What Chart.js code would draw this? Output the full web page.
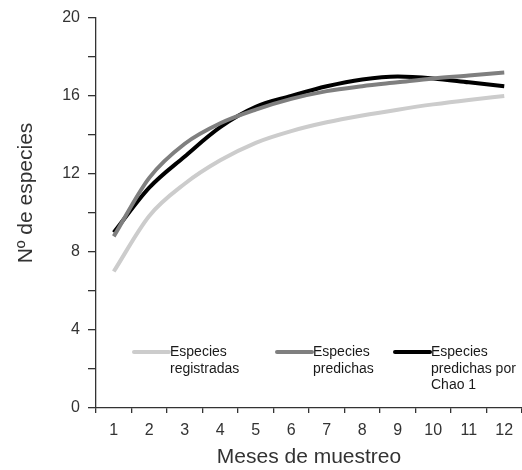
<!DOCTYPE html>
<html>
<head>
<meta charset="utf-8">
<script src="https://cdn.jsdelivr.net/npm/chart.js@4"></script>
<style>
  html, body { margin: 0; padding: 0; background: #fff; }
  #chart { display: block; }
</style>
</head>
<body>
<canvas id="chart" width="522" height="470"></canvas>
<script>
// Curvas de acumulación de especies
const meses = ['1', '2', '3', '4', '5', '6', '7', '8', '9', '10', '11', '12'];

const registradas = [7.0, 9.85, 11.5, 12.7, 13.6, 14.2, 14.65, 15.0, 15.3, 15.57, 15.8, 16.0];
const predichas = [8.8, 11.8, 13.55, 14.6, 15.3, 15.85, 16.25, 16.5, 16.7, 16.9, 17.05, 17.2];
const chao1 = [9.0, 11.3, 12.9, 14.4, 15.45, 16.0, 16.5, 16.85, 17.0, 16.9, 16.7, 16.5];

const nombresSeries = [
  ['Especies', 'registradas'],
  ['Especies', 'predichas'],
  ['Especies', 'predichas por', 'Chao 1'],
];
const coloresSeries = ['#cccccc', '#7f7f7f', '#000000'];

const tituloX = 'Meses de muestreo';
const tituloY = 'Nº de especies';

const textColor = '#333';
const axisColor = '#333';

// legend drawn inside the plot + rotated y title
const insideLegend = {
  id: 'insideLegend',
  afterDraw(chart) {
    const ctx = chart.ctx;
    const items = [
      { x: 134, y: 352 },
      { x: 277, y: 352 },
      { x: 395, y: 352 },
    ];
    ctx.save();
    chart.data.datasets.forEach((ds, i) => {
      const it = items[i];
      ctx.strokeStyle = ds.borderColor;
      ctx.lineWidth = 4;
      ctx.lineCap = 'round';
      ctx.beginPath();
      ctx.moveTo(it.x, it.y);
      ctx.lineTo(it.x + 35, it.y);
      ctx.stroke();
      ctx.fillStyle = '#1a1a1a';
      ctx.font = '14px "Liberation Sans", sans-serif';
      ctx.textAlign = 'left';
      ctx.textBaseline = 'middle';
      nombresSeries[i].forEach((line, k) => {
        ctx.fillText(line, it.x + 36, it.y + k * 16.7);
      });
    });

    ctx.fillStyle = textColor;
    ctx.font = '21px "Liberation Sans", sans-serif';
    ctx.translate(26, 193);
    ctx.rotate(-Math.PI / 2);
    ctx.textAlign = 'center';
    ctx.textBaseline = 'middle';
    ctx.fillText(tituloY, 0, 0);
    ctx.restore();
  },
};

const series = [registradas, predichas, chao1];

new Chart(document.getElementById('chart'), {
  type: 'line',
  data: {
    labels: meses,
    datasets: series.map((values, i) => ({
      label: nombresSeries[i].join(' '),
      data: values,
      borderColor: coloresSeries[i],
      borderWidth: 4,
      pointRadius: 0,
      fill: false,
      cubicInterpolationMode: 'monotone',
    })),
  },
  options: {
    responsive: false,
    animation: false,
    layout: {
      padding: { top: 18, right: 0, left: 0, bottom: 0 },
    },
    plugins: {
      legend: { display: false },
      tooltip: { enabled: false },
    },
    scales: {
      x: {
        type: 'category',
        offset: true,
        border: { display: true, color: axisColor, width: 1.3 },
        grid: {
          offset: true,
          drawOnChartArea: false,
          drawTicks: true,
          tickLength: 5,
          color: axisColor,
          lineWidth: 1.3,
        },
        ticks: {
          color: textColor,
          font: { family: 'Liberation Sans', size: 16 },
          padding: 8,
          maxRotation: 0,
          autoSkip: false,
        },
        title: {
          display: true,
          text: tituloX,
          color: textColor,
          font: { family: 'Liberation Sans', size: 21 },
          padding: { top: 0, bottom: 0 },
        },
        afterFit(scale) {
          scale.height = 62;
        },
      },
      y: {
        min: 0,
        max: 20,
        border: { display: true, color: axisColor, width: 1.3 },
        grid: {
          drawOnChartArea: false,
          drawTicks: true,
          tickLength: 8,
          color: axisColor,
          lineWidth: 1.3,
        },
        ticks: {
          stepSize: 2,
          color: textColor,
          font: { family: 'Liberation Sans', size: 16 },
          padding: 8,
          callback: (v) => (v % 4 === 0 ? String(v) : ''),
        },
        afterFit(scale) {
          scale.width = 96;
        },
      },
    },
  },
  plugins: [insideLegend],
});
</script>
</body>
</html>
